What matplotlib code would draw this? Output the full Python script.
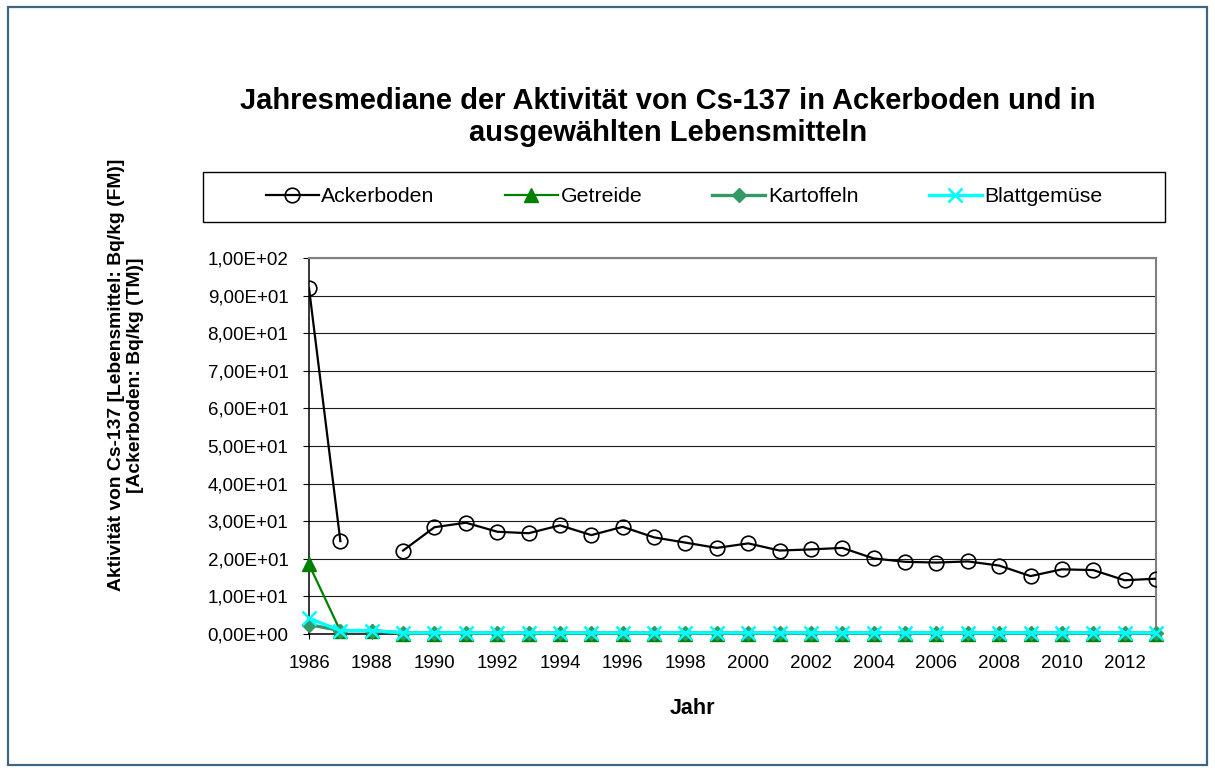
import numpy as np
import matplotlib
matplotlib.use('Agg')
import matplotlib.pyplot as plt
from matplotlib.patches import Rectangle
from matplotlib.ticker import FuncFormatter, MultipleLocator

plt.rcParams['font.family'] = ['Liberation Sans', 'DejaVu Sans']

years = list(range(1986, 2014))
ackerboden = [92.0, 24.7, np.nan, 22.2, 28.4, 29.6, 27.2, 26.8, 28.9, 26.3,
              28.5, 25.7, 24.3, 22.9, 24.1, 22.2, 22.5, 22.9, 20.1, 19.2,
              19.0, 19.3, 18.2, 15.4, 17.2, 17.0, 14.3, 14.7]
getreide = [18.5, 0.8, 0.8] + [0.1] * 25
kartoffeln = [2.5, 0.9, 0.9] + [0.3] * 25
blattgemuese = [4.2, 0.9, 0.9] + [0.3] * 25

fig = plt.figure(figsize=(12.15, 7.73), dpi=100)
W, H = 1215, 773

def fx(px):
    return px / W

def fy(py):
    return 1 - py / H

# outer frame
fig.patches.append(Rectangle((fx(8), fy(765)), fx(1207) - fx(8), fy(7) - fy(765),
                             transform=fig.transFigure, fill=False,
                             edgecolor='#3e6582', linewidth=1.6))

ax = fig.add_axes([fx(309), fy(634), fx(1156) - fx(309), fy(258) - fy(634)])

l1, = ax.plot(years, ackerboden, color='black', lw=1.6, marker='o', ms=10.5,
              mfc='none', mec='black', mew=1.2, label='Ackerboden', zorder=3)
l2, = ax.plot(years, getreide, color='#008000', lw=1.6, marker='^', ms=10.5,
              mec='#008000', label='Getreide', zorder=4, clip_on=False)
l3, = ax.plot(years, kartoffeln, color='#339966', lw=2.4, marker='D', ms=7.5,
              mec='#339966', label='Kartoffeln', zorder=5, clip_on=False)
l4, = ax.plot(years, blattgemuese, color='#00ffff', lw=2.4, marker='x', ms=10,
              mew=1.8, label='Blattgemüse', zorder=6, clip_on=False)

ax.set_xlim(1986, 2013)
ax.set_ylim(0, 100)
ax.xaxis.set_major_locator(MultipleLocator(2))
ax.yaxis.set_major_locator(MultipleLocator(10))
ax.yaxis.set_major_formatter(FuncFormatter(lambda v, p: f'{v:.2E}'.replace('.', ',')))
ax.grid(axis='y', color='#1a1a1a', lw=0.8)
ax.set_axisbelow(True)

for side in ['top', 'right']:
    ax.spines[side].set_color('#808080')
    ax.spines[side].set_linewidth(1.5)
for side in ['left', 'bottom']:
    ax.spines[side].set_color('black')
    ax.spines[side].set_linewidth(1.1)

ax.tick_params(axis='y', direction='out', length=4.3, width=0.8, pad=10.5,
               labelsize=13.5)
ax.tick_params(axis='x', direction='inout', length=7.2, width=0.8, pad=11.5,
               labelsize=13.5)

fig.text(fx(668), fy(117),
         'Jahresmediane der Aktivität von Cs-137 in Ackerboden und in\nausgewählten Lebensmitteln',
         ha='center', va='center', fontsize=21, fontweight='bold', linespacing=1.15)
fig.text(fx(692), fy(708), 'Jahr', ha='center', va='center', fontsize=15.5,
         fontweight='bold')
fig.text(fx(126), fy(375),
         'Aktivität von Cs-137 [Lebensmittel: Bq/kg (FM)]\n[Ackerboden: Bq/kg (TM)]',
         ha='center', va='center', rotation=90, fontsize=13.9, fontweight='bold',
         multialignment='center', linespacing=1.15)

# legend box
fig.patches.append(Rectangle((fx(203), fy(222)), fx(1165) - fx(203), fy(172) - fy(222),
                             transform=fig.transFigure, fill=False,
                             edgecolor='black', linewidth=1.0))
fig.legend(handles=[l1, l2, l3, l4], loc='center', ncol=4,
           bbox_to_anchor=(fx(684), fy(197)), frameon=False, fontsize=15.3,
           handlelength=2.5, handletextpad=0.12, columnspacing=3.3)

fig.savefig('out.png', dpi=100)
